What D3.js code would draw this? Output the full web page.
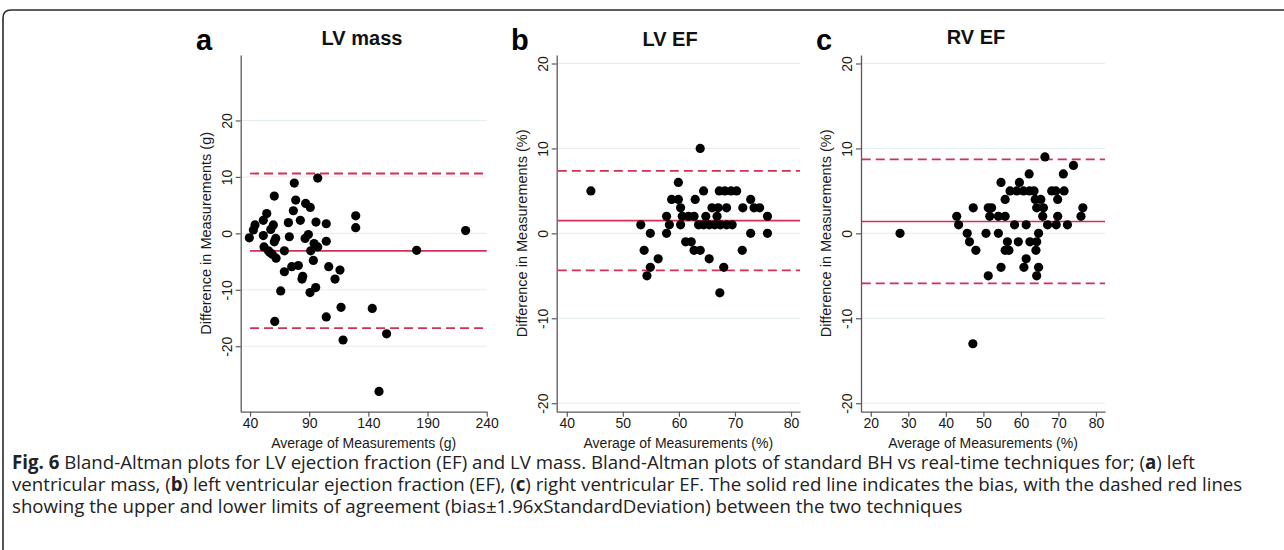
<!DOCTYPE html>
<html>
<head>
<meta charset="utf-8">
<script src="https://cdn.jsdelivr.net/npm/d3@7"></script>
<style>
  body { margin: 0; background: #fff; }
  svg { display: block; }
</style>
</head>
<body>
<div id="chart"></div>
<script>
// # Values (average, difference) per panel.
const lvMassAvg  = [97.2, 77.4, 60.5, 78.6, 87.0, 90.9, 76.6, 54.1, 51.2, 129.3, 129.3, 44.2, 59.7, 72.4, 82.5,
                    95.7, 104.4, 42.8, 57.5, 39.4, 51.2, 61.7, 60.5, 73.2, 86.5, 89.3, 104.4, 94.1, 97.2, 51.8,
                    55.5, 58.8, 62.0, 69.0, 91.3, 93.5, 75.2, 80.8, 69.0, 84.5, 83.9, 106.5, 116.0, 111.8, 65.9,
                    95.5, 90.7, 222.2, 180.8, 60.9, 104.4, 116.9, 143.3, 118.6, 155.4, 149.0, 56.8]
const lvMassDiff = [9.8, 8.9, 6.6, 5.9, 5.3, 4.6, 4.0, 3.5, 2.3, 3.1, 1.0, 1.5, 1.5, 1.9, 2.3,
                    2.0, 1.7, 0.6, 0.7, -0.8, -0.4, -0.9, -1.5, -0.6, -0.9, -0.2, -1.4, -1.8, -2.4, -2.4,
                    -3.1, -3.7, -4.4, -3.1, -3.1, -4.8, -5.9, -5.7, -6.8, -7.6, -8.1, -5.9, -6.5, -8.1, -10.2,
                    -9.6, -10.5, 0.5, -3.0, -15.6, -14.8, -13.1, -13.3, -18.9, -17.8, -28.0, -3.4]

const lvEfAvg  = [44.3, 63.8, 53.2, 54.9, 53.8, 56.3, 54.9, 54.3, 57.8, 58.3, 57.8, 59.9, 58.7, 59.9, 60.3,
                  60.6, 61.7, 62.7, 60.3, 61.2, 62.2, 62.7, 63.8, 65.4, 62.9, 64.4, 64.8, 64.4, 65.4, 66.4,
                  67.4, 68.5, 69.5, 65.9, 67.0, 68.5, 66.8, 67.2, 68.2, 69.3, 70.3, 68.0, 67.3, 71.4, 71.3,
                  72.8, 73.4, 74.4, 72.8, 75.8, 75.8, 63.5]
const lvEfDiff = [5, 10, 1, 0, -2, -3, -4, -5, 2, 1, 0, 6, 4, 4, 3,
                  2, 2, 2, 1, -1, -1, -2, -2, -3, 4, 5, 2, 1, 1, 1,
                  1, 1, 1, 3, 3, 3, 2, 5, 5, 5, 5, -4, -7, 3, -2,
                  4, 3, 3, 0, 2, 0, 1]

const rvEfAvg  = [27.8, 47.2, 66.4, 74.0, 62.2, 71.3, 54.7, 59.6, 57.1, 58.9, 60.7, 62.3, 63.5, 68.2, 69.3,
                  71.5, 55.8, 63.8, 65.3, 69.8, 47.3, 51.3, 52.2, 64.2, 66.0, 76.5, 42.9, 51.7, 54.0, 55.8,
                  65.8, 69.8, 76.0, 43.4, 58.3, 61.4, 67.1, 69.4, 72.4, 45.7, 50.7, 54.0, 64.7, 46.3, 56.4,
                  59.3, 62.4, 64.2, 48.0, 55.8, 56.8, 64.0, 61.4, 54.7, 60.8, 64.7, 51.3, 64.2]
const rvEfDiff = [0, -13, 9, 8, 7, 7, 6, 6, 5, 5, 5, 5, 5, 5, 5,
                  5, 4, 4, 4, 4, 3, 3, 3, 3, 3, 3, 2, 2, 2, 2,
                  2, 2, 2, 1, 1, 1, 1, 1, 1, 0, 0, 0, 0, -1, -1,
                  -1, -1, -1, -2, -2, -2, -2, -3, -4, -4, -4, -5, -5]

// # Bias and limits of agreement: [bias, upper, lower].
const lvMassLimits = [-3.1, 10.6, -16.8]
const lvEfLimits   = [1.5, 7.35, -4.35]
const rvEfLimits   = [1.4, 8.7, -5.9]

// # Tick labels.
const xTicksMass = [40, 90, 140, 190, 240]
const xTicksLvEf = [40, 50, 60, 70, 80]
const xTicksRvEf = [20, 30, 40, 50, 60, 70, 80]
const yTicks     = [-20, -10, 0, 10, 20]

const panelLetters = ['a', 'b', 'c']
const panelTitles  = ['LV mass', 'LV EF', 'RV EF']
const yTitles = ['Difference in Measurements (g)', 'Difference in Measurements (%)', 'Difference in Measurements (%)']
const xTitles = ['Average of Measurements (g)', 'Average of Measurements (%)', 'Average of Measurements (%)']

const RED = '#d62f57'
const AXISFONT = '"Liberation Sans", Arial, sans-serif'

let svg = d3.select('#chart')
    .append('svg')
    .attr('width', 1284)
    .attr('height', 550)

// # Figure frame (top and left edge, rounded corner).
svg.append('path')
    .attr('d', 'M3,552 V18 Q3,10 11,10 H1290')
    .attr('fill', 'none')
    .attr('stroke', '#2a2a2a')
    .attr('stroke-width', 1.6)

// # One Bland-Altman panel.
function panel(config) {
    let {left, right, top, bottom, xDomain, yDomain, xTicks, avg, diff, limits, lineFrom,
         letter, letterX, title, titleX, titleY, yTitle, xTitle} = config

    let x = d3.scaleLinear().domain(xDomain).range([left, right])
    let y = d3.scaleLinear().domain(yDomain).range([bottom, top])
    let g = svg.append('g')

    // gridlines
    g.selectAll('line.grid')
        .data(yTicks)
        .enter().append('line')
        .attr('class', 'grid')
        .attr('x1', left).attr('x2', right)
        .attr('y1', d => y(d)).attr('y2', d => y(d))
        .attr('stroke', '#e4eded')
        .attr('stroke-width', 1)

    // bias + limits
    g.selectAll('line.limit')
        .data(limits)
        .enter().append('line')
        .attr('class', 'limit')
        .attr('x1', x(lineFrom)).attr('x2', right)
        .attr('y1', d => y(d)).attr('y2', d => y(d))
        .attr('stroke', RED)
        .attr('stroke-width', (d, i) => i == 0 ? 1.6 : 1.8)
        .attr('stroke-dasharray', (d, i) => i == 0 ? null : '9,5')

    // y axis
    let yAxis = g.append('g')
        .attr('transform', `translate(${left},0)`)
        .call(d3.axisLeft(y).tickValues(yTicks).tickSize(5).tickSizeOuter(0).tickFormat(d => String(d)))
    yAxis.selectAll('text')
        .attr('x', null).attr('dy', null)
        .attr('text-anchor', 'middle')
        .attr('transform', 'translate(-9,0) rotate(-90)')

    // x axis
    let xAxis = g.append('g')
        .attr('transform', `translate(0,${bottom})`)
        .call(d3.axisBottom(x).tickValues(xTicks).tickSize(5).tickPadding(1).tickSizeOuter(0).tickFormat(d => String(d)))

    for (let ax of [xAxis, yAxis]) {
        ax.select('.domain').attr('stroke', '#5a5a5a').attr('stroke-width', 1.3)
        ax.selectAll('.tick line').attr('stroke', '#5a5a5a').attr('stroke-width', 1.2)
        ax.selectAll('text')
            .attr('fill', '#1a1a1a')
            .style('font-family', AXISFONT)
            .style('font-size', '14px')
    }

    // points
    g.selectAll('circle')
        .data(avg.map((a, i) => [a, diff[i]]))
        .enter().append('circle')
        .attr('cx', d => x(d[0]))
        .attr('cy', d => y(d[1]))
        .attr('r', 4.6)
        .attr('fill', '#000')

    // # Labels.
    g.append('text')
        .text(yTitle)
        .attr('transform', `translate(${left - 30},${(top + bottom) / 2}) rotate(-90)`)
        .attr('text-anchor', 'middle')
        .attr('fill', '#1a1a1a')
        .style('font-family', AXISFONT)
        .style('font-size', '14.5px')
    g.append('text')
        .text(xTitle)
        .attr('x', (left + right) / 2)
        .attr('y', bottom + 36)
        .attr('text-anchor', 'middle')
        .attr('fill', '#1a1a1a')
        .style('font-family', AXISFONT)
        .style('font-size', '14px')
    g.append('text')
        .text(title)
        .attr('x', titleX)
        .attr('y', titleY)
        .attr('text-anchor', 'middle')
        .attr('fill', '#111')
        .style('font-family', AXISFONT)
        .style('font-weight', 'bold')
        .style('font-size', '20px')
    g.append('text')
        .text(letter)
        .attr('x', letterX)
        .attr('y', 50)
        .attr('fill', '#000')
        .style('font-family', AXISFONT)
        .style('font-weight', 'bold')
        .style('font-size', '29px')
}

panel({left: 240.7, right: 486.7, top: 55, bottom: 411.7, xDomain: [32.1, 240], yDomain: [-31.6, 31.6],
       xTicks: xTicksMass, avg: lvMassAvg, diff: lvMassDiff, limits: lvMassLimits, lineFrom: 40,
       letter: panelLetters[0], letterX: 196, title: panelTitles[0], titleX: 362, titleY: 45,
       yTitle: yTitles[0], xTitle: xTitles[0]})
panel({left: 556.7, right: 800, top: 55, bottom: 411.7, xDomain: [38.2, 81.6], yDomain: [-21, 21],
       xTicks: xTicksLvEf, avg: lvEfAvg, diff: lvEfDiff, limits: lvEfLimits, lineFrom: 38.4,
       letter: panelLetters[1], letterX: 511, title: panelTitles[1], titleX: 670, titleY: 46,
       yTitle: yTitles[1], xTitle: xTitles[1]})
panel({left: 861, right: 1105, top: 55, bottom: 411.7, xDomain: [17.4, 82.4], yDomain: [-21, 21],
       xTicks: xTicksRvEf, avg: rvEfAvg, diff: rvEfDiff, limits: rvEfLimits, lineFrom: 17.6,
       letter: panelLetters[2], letterX: 816, title: panelTitles[2], titleX: 976, titleY: 44,
       yTitle: yTitles[2], xTitle: xTitles[2]})

// # Caption, three lines with bold runs.
const captionLines = [
    [['Fig. 6', true], [' Bland-Altman plots for LV ejection fraction (EF) and LV mass. Bland-Altman plots of standard BH vs real-time techniques for; (', false], ['a', true], [') left', false]],
    [['ventricular mass, (', false], ['b', true], [') left ventricular ejection fraction (EF), (', false], ['c', true], [') right ventricular EF. The solid red line indicates the bias, with the dashed red lines', false]],
    [['showing the upper and lower limits of agreement (bias\u00b11.96xStandardDeviation) between the two techniques', false]]
]
let caption = svg.append('g')
    .style('font-family', '"Open Sans", "Noto Sans", sans-serif')
    .style('font-size', '15px')
    .attr('fill', '#222')
let capTexts = captionLines.map((runs, i) => {
    let t = caption.append('text').attr('x', 12).attr('y', 469 + i * 22)
    runs.forEach(([s, b]) => {
        t.append('tspan').text(s).style('font-weight', b ? 'bold' : 'normal')
    })
    return t
})
// fit the first line to its width in the figure
let w0 = capTexts[0].node().getComputedTextLength()
caption.style('font-size', (15 * 1184 / w0) + 'px')
</script>
</body>
</html>
